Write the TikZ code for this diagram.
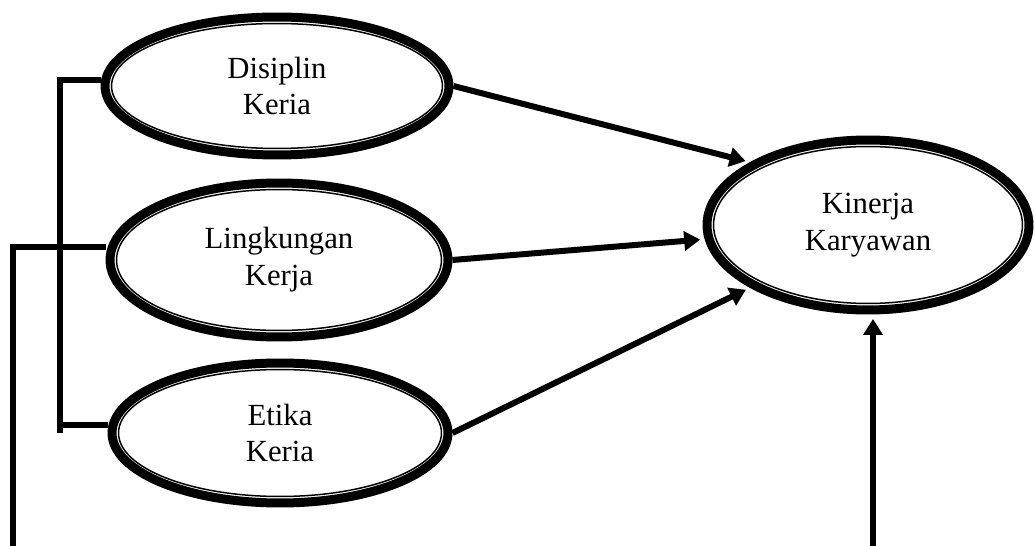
\documentclass[tikz,border=0pt]{standalone}
\usepackage{fontspec}
\setmainfont{Liberation Serif}
\usetikzlibrary{arrows.meta,shapes.geometric}
\tikzset{
  var/.style={ellipse,draw,line width=0.18cm,fill=white,align=center,inner sep=0pt,
              font=\fontsize{17.5}{21}\selectfont},
  inring/.style={line width=0.03cm},
  link/.style={line width=0.12cm},
  arr/.style={link,-{Triangle[length=0.32cm,width=0.38cm]},shorten >=0.09cm},
}

\begin{document}
\begin{tikzpicture}[x=0.02cm,y=-0.02cm]
  \useasboundingbox (0,0) rectangle (1035,546);

  % ================= variables =================
  \node[var,minimum width=6.88cm,minimum height=2.76cm] (dis) at (277,86)  {Disiplin\\Keria};
  \node[var,minimum width=6.76cm,minimum height=3.08cm] (lin) at (279,260) {Lingkungan\\Kerja};
  \node[var,minimum width=6.72cm,minimum height=2.8cm]  (eti) at (280,433) {Etika\\Keria};
  \node[var,minimum width=6.44cm,minimum height=3.4cm]  (kin) at (868,225) {Kinerja\\Karyawan};
  \foreach \n/\a/\b in {dis/3.31/1.25, lin/3.25/1.41, eti/3.23/1.27, kin/3.09/1.57}
    \draw[inring] (\n.center) ellipse [x radius=\a cm, y radius=\b cm];

  % ================= bracket =================
  \coordinate (b1) at (60,80);
  \coordinate (b2) at (60,247);
  \coordinate (b3) at (60,425);
  \coordinate (bend) at (60,433);
  \draw[link] (b1 -| dis.west) -- (b1) -- (bend);
  \draw[link] (b2) -- (b2 -| lin.west);
  \draw[link] (b3) -- (b3 -| eti.west);

  % ================= loop to kinerja =================
  \coordinate (l1) at (13,247);
  \coordinate (l2) at (13,549.3);
  \coordinate (l3) at (873,549.3);
  \draw[arr] (b2) -- (l1) -- (l2) -- (l3) -- (l3 |- kin.south);

  % ================= direct effects =================
  \draw[arr] (dis.east) -- (kin.152);
  \draw[arr] (lin.east) -- (kin.185);
  \draw[arr] (eti.east) -- (kin.208);
\end{tikzpicture}
\end{document}
